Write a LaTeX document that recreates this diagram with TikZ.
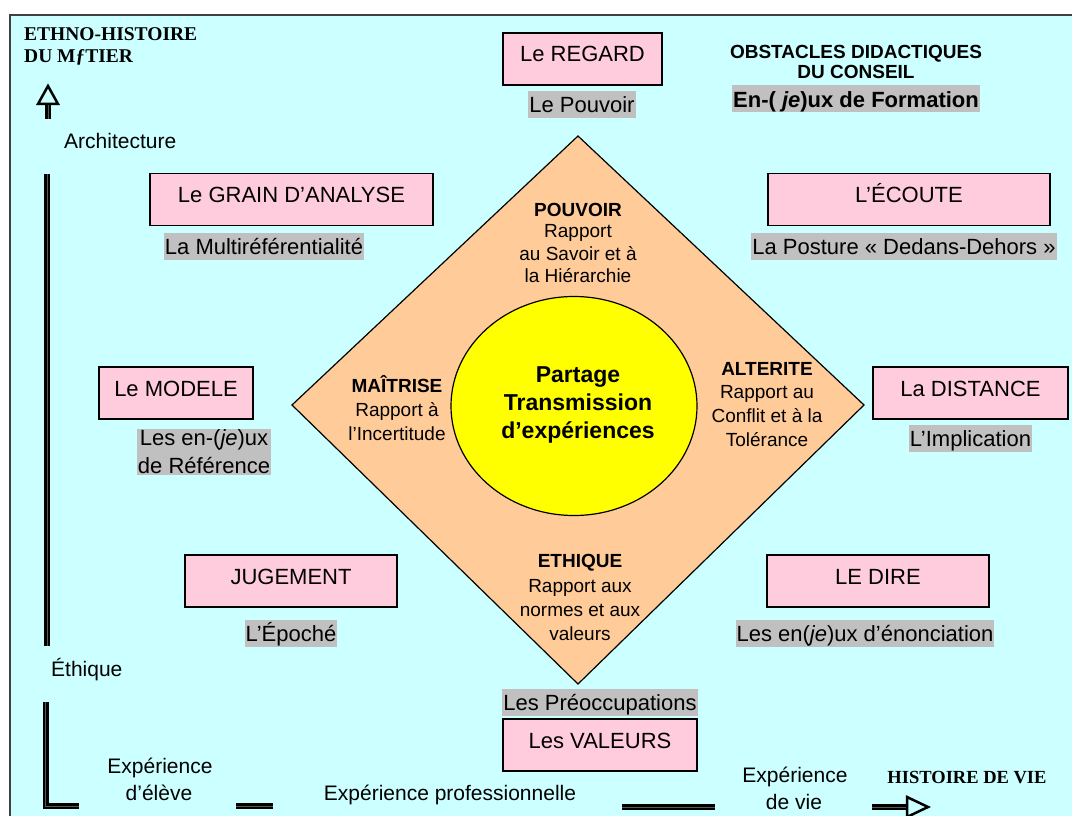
\documentclass[tikz,border=0pt]{standalone}
\usepackage{fontspec}
\setmainfont{Liberation Sans}
\newfontfamily\timesf{Liberation Serif}
\usetikzlibrary{shapes.geometric}
\definecolor{bgc}{HTML}{CCFFFF}
\definecolor{pinkc}{HTML}{FFCCDD}
\definecolor{diac}{HTML}{FFCC99}
\definecolor{grayc}{HTML}{C0C0C0}
\definecolor{framec}{HTML}{404040}
\definecolor{yel}{HTML}{FFFF00}
\begin{document}
\begin{tikzpicture}[x=1pt,y=-1pt,
  pinkbox/.style={draw=black, line width=1.2, fill=pinkc, font=\fontsize{22}{26}\selectfont,
    inner sep=0pt, minimum height=52, text height=16, text depth=10},
  graylab/.style={fill=grayc, font=\fontsize{22}{26}\selectfont, inner xsep=1, inner ysep=0.5,
    text height=21, text depth=5},
  dtxt/.style={font=\fontsize{19}{22}\selectfont, anchor=base, inner sep=0pt},
  dbold/.style={font=\bfseries\fontsize{19}{22}\selectfont, anchor=base, inner sep=0pt},
  ctxt/.style={font=\bfseries\fontsize{23}{28}\selectfont, anchor=base, inner sep=0pt},
  axtxt/.style={font=\fontsize{21}{24}\selectfont, anchor=base, inner sep=0pt},
  serifhead/.style={font=\timesf\bfseries\fontsize{19.5}{21}\selectfont, anchor=base west, inner sep=0pt},
  axisline/.style={draw=black, line width=2.5, double=black!65, double distance=1, line join=miter},
  arrowhead/.style={draw=black, line width=2.5, fill=bgc, line join=miter}
]
\useasboundingbox (0,0) rectangle (1072,816);
\fill[white] (0,0) rectangle (1072,816);
\fill[bgc] (10,15) rectangle (1072,816);
\draw[framec, line width=1.5] (10,816) -- (10,15) -- (1072,15);

% diamond
\coordinate (dt) at (578,136);
\coordinate (dr) at (864,405);
\coordinate (db) at (578,684);
\coordinate (dl) at (292,405);
\draw[fill=diac, line width=1.2] (dt) -- (dr) -- (db) -- (dl) -- cycle;
\node[ellipse, draw=black, line width=1.2, fill=yel, minimum width=246, minimum height=219, inner sep=0pt] (core) at (574,406) {};

\node[ctxt] (c1) at (578,382) {Partage};
\node[ctxt] (c2) at (578,410) {Transmission};
\node[ctxt] (c3) at (578,438) {d’expériences};

\node[dbold] (p0) at (578,216) {POUVOIR};
\node[dtxt] (p1) at (578,237) {Rapport};
\node[dtxt] (p2) at (578,260) {au Savoir et à};
\node[dtxt] (p3) at (578,282) {la Hiérarchie};

\node[dbold] (m0) at (397,392) {MAÎTRISE};
\node[dtxt] (m1) at (397,416) {Rapport à};
\node[dtxt] (m2) at (397,440) {l’Incertitude};

\node[dbold] (a0) at (767,375) {ALTERITE};
\node[dtxt] (a1) at (767,398) {Rapport au};
\node[dtxt] (a2) at (767,422) {Conflit et à la};
\node[dtxt] (a3) at (767,446) {Tolérance};

\node[dbold] (e0) at (580,567) {ETHIQUE};
\node[dtxt] (e1) at (580,592) {Rapport aux};
\node[dtxt] (e2) at (580,616) {normes et aux};
\node[dtxt] (e3) at (580,640) {valeurs};

% boxes and labels
\node[pinkbox, minimum width=159] (regard) at (582.5,59) {Le REGARD};
\node[graylab] (pouvoir) at (582,105) {Le Pouvoir};

\node[pinkbox, minimum width=283] (grain) at (291.5,199.5) {Le GRAIN D’ANALYSE};
\node[graylab] (multi) at (264,246.5) {La Multiréférentialité};

\node[pinkbox, minimum width=282] (ecoute) at (909,199.5) {L’ÉCOUTE};
\node[graylab] (posture) at (904,246.5) {La Posture «~Dedans-Dehors~»};

\node[pinkbox, minimum width=154] (modele) at (176,393) {Le MODELE};
\node[fill=grayc, font=\fontsize{22}{28}\selectfont, align=center, inner xsep=1, inner ysep=1] (enjeux) at (204,452) {Les en-(\textit{je})ux\\de Référence};

\node[pinkbox, minimum width=195] (distance) at (970.5,393) {La DISTANCE};
\node[graylab] (implic) at (970.5,438) {L’Implication};

\node[pinkbox, minimum width=212] (jugement) at (291,581) {JUGEMENT};
\node[graylab] (epoche) at (291,633) {L’Époché};

\node[pinkbox, minimum width=222] (dire) at (878,581) {LE DIRE};
\node[graylab] (enonc) at (865,633) {Les en(\textit{je})ux d’énonciation};

\node[graylab] (preocc) at (600,702) {Les Préoccupations};
\node[pinkbox, minimum width=194] (valeurs) at (600,745) {Les VALEURS};

% top-left heading
\node[serifhead] (eh1) at (24,41) {ETHNO-HISTOIRE};
\node[serifhead] (eh2) at (24,63) {DU MƒTIER};

% top-right heading
\node[dbold] (ob1) at (856,59) {OBSTACLES DIDACTIQUES};
\node[dbold] (ob2) at (856,79) {DU CONSEIL};
\node[graylab, font=\bfseries\fontsize{22}{26}\selectfont] (form) at (856,99) {En-( \textit{je})ux de Formation};

% vertical axis
\draw[arrowhead] (38,104) -- (48,86) -- (58,104) -- cycle;
\draw[axisline] (48,105.5) -- (48,119);
\node[axtxt, anchor=base west] (archi) at (64,149) {Architecture};
\draw[axisline] (47,174) -- (47,646);
\node[axtxt, anchor=base west] (ethq) at (51,676) {Éthique};
\draw[axisline] (45.5,702) -- (45.5,806) -- (79,806);

% horizontal axis
\draw[axisline] (236,806) -- (273,806);
\draw[axisline] (622,807) -- (715,807);
\draw[axisline] (872,807) -- (907,807);
\draw[arrowhead] (907,797) -- (928,807) -- (907,817) -- cycle;

\node[axtxt] (x1a) at (160,773) {Expérience};
\node[axtxt] (x1b) at (159,800) {d’élève};
\node[axtxt] (x2) at (450,800) {Expérience professionnelle};
\node[axtxt] (x3a) at (795,782) {Expérience};
\node[axtxt] (x3b) at (794,809) {de vie};
\node[font=\timesf\bfseries\fontsize{18.5}{21}\selectfont, anchor=base, inner sep=0pt] (hv) at (967,783) {HISTOIRE DE VIE};
\end{tikzpicture}
\end{document}
